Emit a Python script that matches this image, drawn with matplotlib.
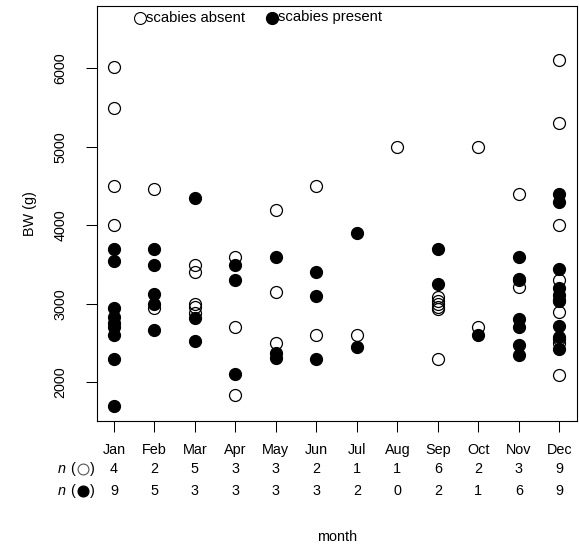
import matplotlib
matplotlib.use("Agg")
import matplotlib.pyplot as plt
import matplotlib.transforms as mtransforms
from matplotlib.lines import Line2D

months = ["Jan", "Feb", "Mar", "Apr", "May", "Jun",
          "Jul", "Aug", "Sep", "Oct", "Nov", "Dec"]

absent_bw = [
    [6020, 5500, 4500, 4000],
    [4460, 2940],
    [3500, 3400, 3000, 2960, 2880],
    [3600, 2710, 1840],
    [4200, 3150, 2500],
    [4500, 2600],
    [2600],
    [5000],
    [3080, 3040, 3000, 2960, 2930, 2300],
    [5000, 2710],
    [4400, 3300, 3210],
    [6100, 5300, 4000, 3300, 3050, 2900, 2550, 2500, 2090],
]

present_bw = [
    [3700, 3540, 2940, 2830, 2760, 2700, 2600, 2300, 1700],
    [3700, 3500, 3130, 3000, 2660],
    [4350, 2820, 2520],
    [3500, 3300, 2100],
    [3600, 2370, 2310],
    [3400, 3100, 2300],
    [3900, 2450],
    [],
    [3700, 3250],
    [2600],
    [3600, 3310, 2800, 2700, 2470, 2350],
    [4400, 4300, 3440, 3200, 3110, 3040, 2720, 2580, 2420],
]

yticks = [2000, 3000, 4000, 5000, 6000]

W, H = 579, 544
FS = 10.4
plt.rcParams['font.family'] = ['Liberation Sans', 'DejaVu Sans']

fig = plt.figure(figsize=(W / 100, H / 100), dpi=100)


def fx(x):
    return x / W


def fy(y):
    return 1 - y / H


L, R, T, B = 96.7, 576.7, 5.7, 420.5
ax = fig.add_axes([fx(L), fy(B), (R - L) / W, (B - T) / H])

ms = 8.6
mew = 0.9
for i, vals in enumerate(absent_bw):
    ax.plot([i + 1] * len(vals), vals, ls='none', marker='o', ms=ms,
            mfc='none', mec='black', mew=mew)
for i, vals in enumerate(present_bw):
    ax.plot([i + 1] * len(vals), vals, ls='none', marker='o', ms=ms,
            mfc='black', mec='black', mew=mew)

ax.set_xlim(0.573, 12.43)
ax.set_ylim(1513, 6797)
ax.set_xticks(range(1, 13))
ax.set_xticklabels(months, fontsize=FS)
ax.set_yticks(yticks)
ax.set_yticklabels([str(v) for v in yticks], fontsize=FS, rotation=90, va='center')
ax.tick_params(axis='x', length=7.6, width=0.75, pad=8.5)
ax.tick_params(axis='y', length=7.6, width=0.75, pad=13.5)
for s in ax.spines.values():
    s.set_linewidth(0.8)

fig.text(fx(30), (fy(B) + fy(T)) / 2, "BW (g)", fontsize=FS, rotation=90,
         ha='center', va='center')


def fig_marker(x, y, filled, size, edge_color='black'):
    fig.add_artist(Line2D([fx(x)], [fy(y)], transform=fig.transFigure, ls='none',
                          marker='o', ms=size, mfc='black' if filled else 'none',
                          mec=edge_color, mew=mew if filled else 0.8))


# legend (manual)
fig_marker(139.7, 17.5, False, ms)
fig.text(fx(146.5), fy(17.5), "scabies absent", fontsize=10.7, ha='left', va='center')
fig_marker(271.7, 17.5, True, ms)
fig.text(fx(278.3), fy(17.5), "scabies present", fontsize=10.7, ha='left', va='center')

# count rows
blend = mtransforms.blended_transform_factory(ax.transData, fig.transFigure)
for i in range(12):
    fig.text(i + 1, fy(469.3), str(len(absent_bw[i])), transform=blend, fontsize=FS,
             ha='center', va='center')
    fig.text(i + 1, fy(490.7), str(len(present_bw[i])), transform=blend, fontsize=FS,
             ha='center', va='center')

for yrow, filled in ((469.3, False), (490.7, True)):
    fig.text(fx(65.5), fy(yrow), "n", fontsize=FS, style='italic', ha='right', va='center')
    fig.text(fx(70.0), fy(yrow), "(", fontsize=FS, ha='left', va='center')
    fig.text(fx(95.0), fy(yrow), ")", fontsize=FS, ha='right', va='center')
    fig_marker(82.8, yrow, filled, 7.8, edge_color='black' if filled else '#555555')

fig.text((fx(L) + fx(R)) / 2, fy(537), "month", fontsize=FS, ha='center', va='center')

fig.savefig("out.png", dpi=100)
